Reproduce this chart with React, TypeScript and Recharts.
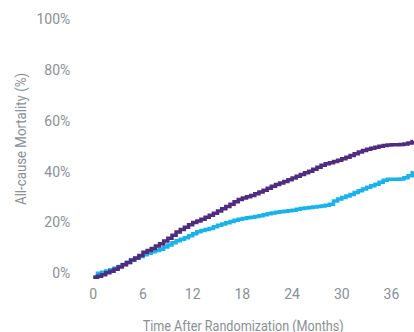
import React from 'react';
import { LineChart, Line, XAxis, YAxis } from 'recharts';

// months after randomization (half-month steps of the KM curves)
const months = [
  0, 0.5, 1, 1.5, 2, 2.5, 3, 3.5, 4, 4.5, 5, 5.5, 6, 6.5, 7, 7.5, 8, 8.5, 9, 9.5,
  10, 10.5, 11, 11.5, 12, 12.5, 13, 13.5, 14, 14.5, 15, 15.5, 16, 16.5, 17, 17.5, 18, 18.5, 19, 19.5,
  20, 20.5, 21, 21.5, 22, 22.5, 23, 23.5, 24, 24.5, 25, 25.5, 26, 26.5, 27, 27.5, 28, 28.5, 29, 29.5,
  30, 30.5, 31, 31.5, 32, 32.5, 33, 33.5, 34, 34.5, 35, 35.5, 36, 36.5, 37, 37.5, 38, 38.5, 38.6,
];

// cumulative all-cause mortality (%)
const purpleArm = [
  -1.5, -1.2, -0.6, 0.2, 0.8, 1.6, 2.5, 3.4, 4.3, 5.2, 6.0, 7.0, 8.3, 9.0, 9.8, 10.7, 11.6, 12.7, 13.8, 15.0,
  16.2, 17.2, 18.1, 19.1, 20.0, 20.6, 21.3, 22.0, 22.8, 23.6, 24.5, 25.4, 26.3, 27.2, 28.1, 29.0, 29.6, 30.1, 30.6, 31.3,
  32.0, 32.7, 33.4, 34.2, 34.9, 35.5, 36.1, 36.8, 37.5, 38.2, 38.9, 39.5, 40.1, 40.9, 41.7, 42.5, 43.1, 43.5, 44.0, 44.5,
  45.0, 45.6, 46.3, 47.0, 47.7, 48.3, 48.8, 49.2, 49.6, 50.0, 50.3, 50.5, 50.6, 50.6, 50.7, 50.8, 51.2, 51.8, 52,
];
const cyanArm = [
  -1.5, 0, 0.4, 0.9, 1.4, 2.0, 2.7, 3.5, 4.3, 5.1, 5.9, 6.6, 7.3, 7.9, 8.5, 9.0, 9.5, 10.3, 11.1, 12.0,
  12.8, 13.4, 14.0, 14.8, 15.6, 16.3, 16.8, 17.2, 17.6, 18.3, 18.9, 19.4, 19.9, 20.4, 20.9, 21.3, 21.6, 21.8, 22.0, 22.3,
  22.6, 23.0, 23.4, 23.7, 24.0, 24.2, 24.4, 24.6, 24.8, 25.2, 25.5, 25.7, 25.9, 26.1, 26.3, 26.5, 26.8, 27.2, 28.4, 29.2,
  29.8, 30.4, 31.0, 31.8, 32.5, 33.2, 33.8, 34.4, 35.0, 35.8, 36.6, 37.0, 37.0, 37.0, 37.1, 37.6, 38.4, 39.5, 40,
];

const xTicks = [0, 6, 12, 18, 24, 30, 36];
const yTicks = [0, 20, 40, 60, 80, 100];

const data = months.map((m, i) => ({ month: m, purple: purpleArm[i], cyan: cyanArm[i] }));

const textColor = '#8b8f96';
const fontFamily = 'Roboto, "Liberation Sans", sans-serif';

// axis titles are set in a condensed face in the original, so squeeze them with textLength
const XTitle = (props: any) => {
  const vb = props.viewBox || {};
  return (
    <text
      x={vb.x + vb.width / 2 - 10}
      y={vb.y + vb.height - 1.5}
      textAnchor="middle"
      fill={textColor}
      fontSize={14}
      fontFamily={fontFamily}
      textLength={201}
      lengthAdjust="spacingAndGlyphs"
    >
      Time After Randomization (Months)
    </text>
  );
};

const YTitle = (props: any) => {
  const vb = props.viewBox || {};
  const cx = vb.x + 21;
  const cy = vb.y + vb.height / 2 - 9.7;
  return (
    <text
      x={cx}
      y={cy}
      transform={`rotate(-90, ${cx}, ${cy})`}
      textAnchor="middle"
      dominantBaseline="central"
      fill={textColor}
      fontSize={14}
      fontFamily={fontFamily}
      textLength={132}
      lengthAdjust="spacingAndGlyphs"
    >
      All-cause Mortality (%)
    </text>
  );
};

export default function App() {
  return (
    <div style={{ width: 414, height: 332, position: 'fixed', left: 0, top: 0, background: '#fff' }}>
      <LineChart width={414} height={332} data={data} margin={{ top: 19, right: 1, left: 0, bottom: 0 }}>
        <XAxis
          dataKey="month"
          type="number"
          domain={[0, 38.6]}
          ticks={xTicks}
          axisLine={false}
          tickLine={false}
          tickSize={0}
          tickMargin={11}
          height={53.6}
          tick={{ fill: textColor, fontSize: 14, fontFamily }}
          label={XTitle}
        />
        <YAxis
          type="number"
          domain={[-2, 100]}
          ticks={yTicks}
          width={93.3}
          axisLine={false}
          tickLine={false}
          tickSize={0}
          tickMargin={23}
          tickFormatter={(v: number) => `${v}%`}
          tick={{ fill: textColor, fontSize: 14, fontFamily }}
          label={YTitle}
        />
        <Line type="stepAfter" dataKey="cyan" stroke="#1ab2ea" strokeWidth={3.5} dot={false} isAnimationActive={false} />
        <Line type="stepAfter" dataKey="purple" stroke="#4f2c7e" strokeWidth={3.5} dot={false} isAnimationActive={false} />
      </LineChart>
    </div>
  );
}
